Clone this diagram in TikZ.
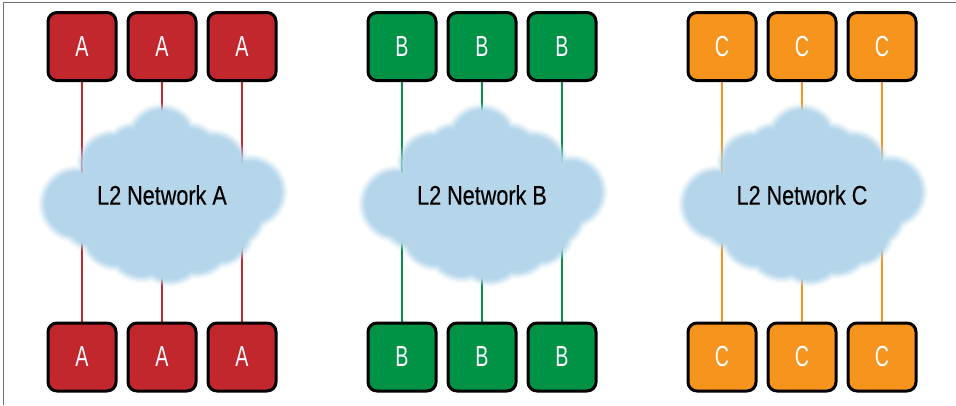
\documentclass[tikz,border=0pt]{standalone}
\usepackage{fontspec}
\setmainfont{Liberation Sans}
\newfontfamily\boxfont[FakeStretch=0.68]{Liberation Sans}
\newfontfamily\cloudfont[FakeStretch=0.8, FakeBold=0.3]{Liberation Sans}
\usetikzlibrary{backgrounds}
\definecolor{redA}{HTML}{C1272D}
\definecolor{greenB}{HTML}{009245}
\definecolor{orangeC}{HTML}{F7941E}
\definecolor{cloudblue}{HTML}{B4D5EA}
\definecolor{framegray}{HTML}{707070}
\tikzset{
  hostbox/.style={draw=black, line width=3pt, rounded corners=9pt, minimum size=68pt, inner sep=0pt,
    text=white, font=\boxfont\fontsize{29}{29}\selectfont},
  link/.style={line width=2pt},
  cloudtext/.style={font=\cloudfont\fontsize{27}{27}\selectfont, text=black},
}
\newcommand{\mycloud}[2]{%
  \foreach \ex/\op in {4/0.15, 2/0.3, 0/0.45, -2/0.7, -4/1}{%
    \fill[cloudblue, fill opacity=\op]
      foreach \dx/\dy/\r in {0/-55/33, -50/-30/32, 50/-28/34, -85/9/35, 88/-3/34, -45/38/35, 8/55/33, 55/35/35,
        0/0/70, -28/-42/28, 28/-42/28, 68/18/34, -68/22/32, -20/50/34, 35/48/32}
      {(#1+\dx,#2+\dy) circle[radius=\r+\ex]};
  }%
}
\begin{document}
\begin{tikzpicture}[x=1pt,y=-1pt]
\useasboundingbox (0,0) rectangle (956,405);
\draw[framegray, line width=1pt] (3,405) -- (3,2) -- (956,2);
% boxes
\foreach \g/\col/\lab [count=\gi from 0] in {a/redA/A, b/greenB/B, c/orangeC/C}{
  \foreach \k in {0,1,2}{
    \node[hostbox, fill=\col] (\g t\k) at (82+320*\gi+80*\k,46.5) {\lab};
    \node[hostbox, fill=\col] (\g b\k) at (82+320*\gi+80*\k,357) {\lab};
  }
}
\begin{pgfonlayer}{background}
\foreach \g/\col in {a/redA, b/greenB, c/orangeC}{
  \foreach \k in {0,1,2}{
    \draw[link, \col] (\g t\k) -- (\g b\k);
  }
}
\mycloud{162}{195}
\mycloud{482}{195}
\mycloud{802}{195}
\end{pgfonlayer}
\node[cloudtext] (na) at (162,195) {L2 Network A};
\node[cloudtext] (nb) at (482,195) {L2 Network B};
\node[cloudtext] (nc) at (802,195) {L2 Network C};
\end{tikzpicture}
\end{document}
